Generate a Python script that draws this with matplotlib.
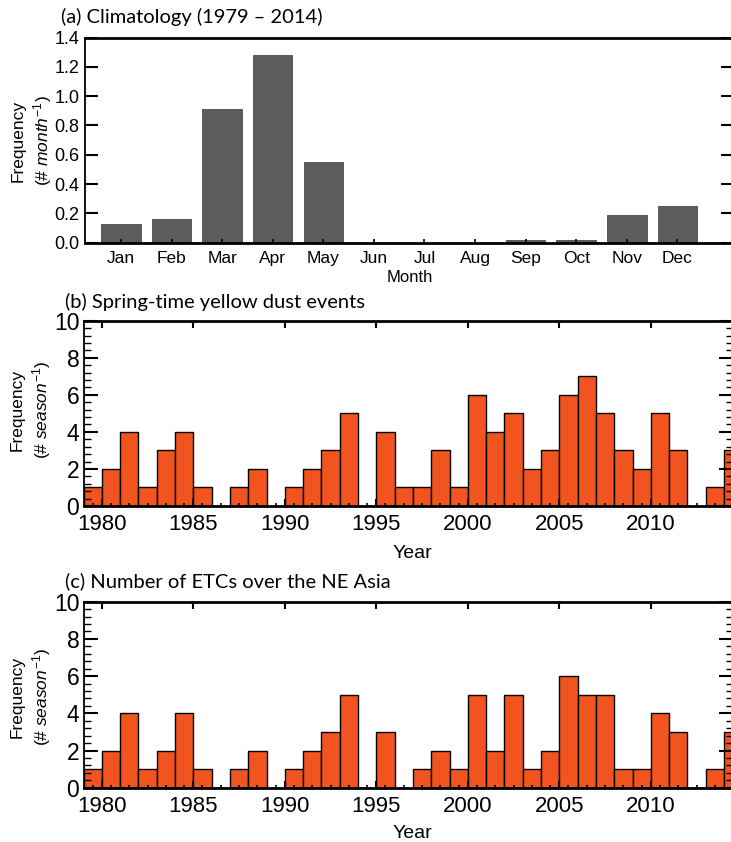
import matplotlib
matplotlib.use("Agg")
import matplotlib.pyplot as plt
from matplotlib.ticker import MultipleLocator, AutoMinorLocator

# ---- data ----
months = ["Jan", "Feb", "Mar", "Apr", "May", "Jun", "Jul", "Aug", "Sep", "Oct", "Nov", "Dec"]
clim_freq = [0.13, 0.16, 0.91, 1.28, 0.55, 0.0, 0.0, 0.0, 0.02, 0.02, 0.19, 0.25]

years = list(range(1979, 2015))
dust_events = [1, 2, 4, 1, 3, 4, 1, 0, 1, 2, 0, 1, 2, 3, 5, 0, 4, 1,
               1, 3, 1, 6, 4, 5, 2, 3, 6, 7, 5, 3, 2, 5, 3, 0, 1, 3]
etc_counts = [1, 2, 4, 1, 2, 4, 1, 0, 1, 2, 0, 1, 2, 3, 5, 0, 3, 0,
              1, 2, 1, 5, 2, 5, 1, 2, 6, 5, 5, 1, 1, 4, 3, 0, 1, 3]

W, H = 731, 842
BAR_ORANGE = "#F1541F"
BAR_GRAY = "#5c5c5c"
TICK_FONT = "Liberation Sans"
TITLE_FONT = "Lato"

plt.rcParams["mathtext.fontset"] = "custom"
plt.rcParams["mathtext.it"] = "Liberation Sans:italic"
plt.rcParams["mathtext.rm"] = "Liberation Sans"

fig = plt.figure(figsize=(W / 100, H / 100), dpi=100)


def px_axes(left, top, right, bottom):
    return fig.add_axes([left / W, 1 - bottom / H, (right - left) / W, (bottom - top) / H])


def fig_text(x, y, s, **kw):
    fig.text(x / W, 1 - y / H, s, **kw)


def style_spines(ax, top_lw=2.0, other_lw=1.3):
    for side in ["left", "right", "bottom"]:
        ax.spines[side].set_linewidth(other_lw)
    ax.spines["top"].set_linewidth(top_lw)
    ax.spines["bottom"].set_linewidth(2.0)


# ---- (a) climatology ----
ax1 = px_axes(85.3, 37.5, 733, 242.7)
ax1.bar(range(1, 13), clim_freq, width=0.78, color=BAR_GRAY, edgecolor="#4a4a4a", linewidth=0.6)
ax1.set_xlim(0.294, 13.1)
ax1.set_ylim(0, 1.4)
ax1.set_xticks(range(1, 13))
ax1.set_xticklabels(months)
ax1.set_yticks([0.0, 0.2, 0.4, 0.6, 0.8, 1.0, 1.2, 1.4])
ax1.set_yticklabels([f"{v:.1f}" for v in ax1.get_yticks()])
ax1.tick_params(axis="y", direction="in", length=9, width=1.5, left=True, right=True,
                labelsize=13, pad=4)
ax1.tick_params(axis="x", direction="in", length=3, width=1.2, top=False,
                labelsize=12.5, pad=6)
for lab in ax1.get_xticklabels() + ax1.get_yticklabels():
    lab.set_fontfamily(TICK_FONT)
style_spines(ax1)
fig_text(410, 277, "Month", ha="center", va="center", fontsize=12, family=TICK_FONT)
fig_text(32, 141, "Frequency\n(# $\\mathit{month}^{-1}$)", ha="center", va="center",
         rotation=90, fontsize=12.5, family=TICK_FONT, linespacing=1.3)
fig_text(60.6, 17, "(a) Climatology (1979 \u2013 2014)", ha="left", va="center",
         fontsize=14.5, family=TITLE_FONT)


# ---- (b) and (c) yearly histograms ----
def year_panel(top, bottom, values, title, title_y, label_y, year_y):
    ax = px_axes(83.5, top, 733, bottom)
    ax.bar(years, values, width=1.0, align="edge", color=BAR_ORANGE,
           edgecolor="black", linewidth=1.0)
    ax.set_xlim(1979, 2014.49)
    ax.set_ylim(0, 10)
    ax.set_xticks(range(1980, 2015, 5))
    ax.xaxis.set_minor_locator(MultipleLocator(1.0, offset=0.5))
    ax.set_yticks(range(0, 11, 2))
    ax.yaxis.set_minor_locator(AutoMinorLocator(5))
    ax.tick_params(axis="x", which="major", direction="in", length=5, width=1.5,
                   top=True, labelsize=16, pad=6)
    ax.tick_params(axis="x", which="minor", direction="in", length=2.5, width=1.2,
                   top=False)
    ax.tick_params(axis="y", which="major", direction="in", length=10, width=1.5,
                   right=True, labelsize=16.5, pad=3)
    ax.tick_params(axis="y", which="minor", direction="in", length=5, width=1.0,
                   right=True)
    for lab in ax.get_xticklabels() + ax.get_yticklabels():
        lab.set_fontfamily(TICK_FONT)
    style_spines(ax)
    fig_text(412.6, year_y, "Year", ha="center", va="center", fontsize=14, family=TICK_FONT)
    fig_text(31, label_y, "Frequency\n(# $\\mathit{season}^{-1}$)", ha="center",
             va="center", rotation=90, fontsize=12.5, family=TICK_FONT, linespacing=1.3)
    fig_text(65, title_y, title, ha="left", va="center", fontsize=14.5, family=TITLE_FONT)
    return ax


ax2 = year_panel(320.7, 506, dust_events, "(b) Spring-time yellow dust events",
                 301.7, 410, 553)
ax3 = year_panel(601.7, 787.7, etc_counts, "(c) Number of ETCs over the NE Asia",
                 581.7, 697, 833)

fig.savefig("out.png", dpi=100)
